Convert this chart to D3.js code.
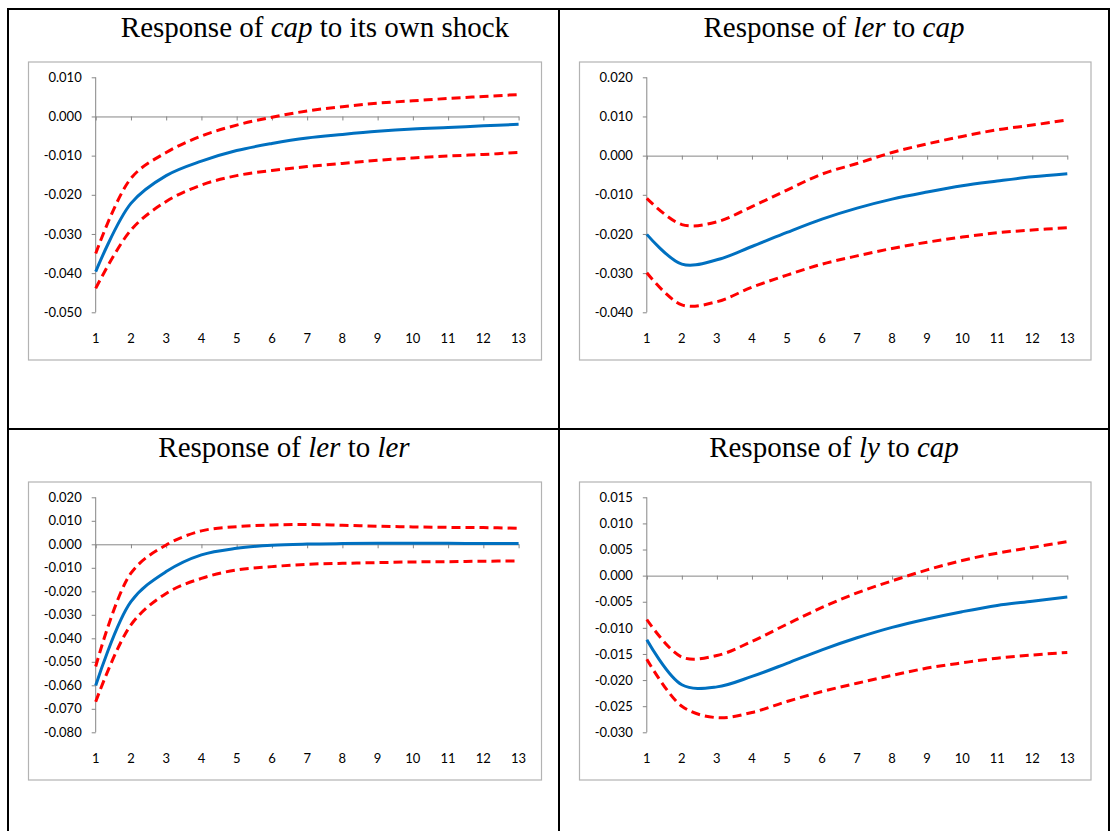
<!DOCTYPE html>
<html>
<head>
<meta charset="utf-8">
<title>Impulse responses</title>
<script src="https://d3js.org/d3.v7.min.js"></script>
<style>
  body { margin: 0; background: #fff; }
  .tick-label { font-family: Lato, "Open Sans", sans-serif; font-size: 13px; fill: #000; }
  .panel-title { font-family: "Liberation Serif", "Times New Roman", serif; font-size: 29px; fill: #000; }
</style>
</head>
<body>
<svg width="1110" height="831"></svg>
<script>
const periods = [1, 2, 3, 4, 5, 6, 7, 8, 9, 10, 11, 12, 13];

// Response of cap to its own shock
const capCapMid   = [-0.0396, -0.0222, -0.0151, -0.0114, -0.0087, -0.0069, -0.0055, -0.0046, -0.0038, -0.0032, -0.0028, -0.0024, -0.0020];
const capCapUpper = [-0.0350, -0.0158, -0.0092, -0.0050, -0.0022, -0.0002, 0.0014, 0.0025, 0.0034, 0.0040, 0.0046, 0.0051, 0.0056];
const capCapLower = [-0.0439, -0.0290, -0.0217, -0.0175, -0.0151, -0.0138, -0.0128, -0.0120, -0.0112, -0.0106, -0.0101, -0.0097, -0.0092];
const capCapTicks = [0.010, 0.000, -0.010, -0.020, -0.030, -0.040, -0.050];

// Response of ler to cap
const lerCapMid   = [-0.0201, -0.0277, -0.0266, -0.0232, -0.0196, -0.0162, -0.0134, -0.0111, -0.0093, -0.0077, -0.0065, -0.0054, -0.0046];
const lerCapUpper = [-0.0109, -0.0176, -0.0169, -0.0130, -0.0088, -0.0047, -0.0020, 0.0008, 0.0030, 0.0049, 0.0066, 0.0078, 0.0091];
const lerCapLower = [-0.0299, -0.0381, -0.0373, -0.0336, -0.0305, -0.0277, -0.0256, -0.0237, -0.0221, -0.0208, -0.0197, -0.0190, -0.0184];
const lerCapTicks = [0.020, 0.010, 0.000, -0.010, -0.020, -0.030, -0.040];

// Response of ler to ler
const lerLerMid   = [-0.0601, -0.0244, -0.0116, -0.0045, -0.0017, -0.0004, 0.0001, 0.0003, 0.0004, 0.0004, 0.0004, 0.0003, 0.0003];
const lerLerUpper = [-0.0520, -0.0123, -0.0003, 0.0057, 0.0075, 0.0082, 0.0084, 0.0081, 0.0077, 0.0074, 0.0072, 0.0071, 0.0068];
const lerLerLower = [-0.0670, -0.0343, -0.0209, -0.0145, -0.0109, -0.0095, -0.0085, -0.0081, -0.0078, -0.0075, -0.0074, -0.0072, -0.0071];
const lerLerTicks = [0.020, 0.010, 0.000, -0.010, -0.020, -0.030, -0.040, -0.050, -0.060, -0.070, -0.080];

// Response of ly to cap
const lyCapMid   = [-0.0123, -0.0209, -0.0213, -0.0193, -0.0168, -0.0142, -0.0119, -0.0099, -0.0083, -0.0069, -0.0057, -0.0049, -0.0041];
const lyCapUpper = [-0.0084, -0.0156, -0.0153, -0.0126, -0.0093, -0.0061, -0.0033, -0.0010, 0.0011, 0.0029, 0.0043, 0.0054, 0.0065];
const lyCapLower = [-0.0160, -0.0250, -0.0272, -0.0262, -0.0241, -0.0222, -0.0206, -0.0191, -0.0177, -0.0167, -0.0158, -0.0152, -0.0147];
const lyCapTicks = [0.015, 0.010, 0.005, 0.000, -0.005, -0.010, -0.015, -0.020, -0.025, -0.030];

// title pieces: [text, italic?]
const capCapTitle = [["Response of ", false], ["cap", true], [" to its own shock", false]];
const lerCapTitle = [["Response of ", false], ["ler", true], [" to ", false], ["cap", true]];
const lerLerTitle = [["Response of ", false], ["ler", true], [" to ", false], ["ler", true]];
const lyCapTitle  = [["Response of ", false], ["ly", true], [" to ", false], ["cap", true]];

const svg = d3.select("svg");

// table grid
const grid = svg.append("g").attr("stroke", "#000").attr("stroke-width", 2);
grid.append("line").attr("x1", 7).attr("x2", 1110).attr("y1", 9).attr("y2", 9);
grid.append("line").attr("x1", 8).attr("x2", 8).attr("y1", 8).attr("y2", 831);
grid.append("line").attr("x1", 559).attr("x2", 559).attr("y1", 8).attr("y2", 831);
grid.append("line").attr("x1", 1109).attr("x2", 1109).attr("y1", 8).attr("y2", 831);
grid.append("line").attr("x1", 8).attr("x2", 1110).attr("y1", 429).attr("y2", 429);

const panels = [
  { title: capCapTitle, titleX: 315, titleY: 37, box: [28.5, 62, 513, 298], x0: 95.7, x1: 518.6, yTop: 77.3, yBot: 312.3,
    ticks: capCapTicks, mid: capCapMid, upper: capCapUpper, lower: capCapLower },
  { title: lerCapTitle, titleX: 834, titleY: 37, box: [579.5, 62, 511.5, 298], x0: 646.8, x1: 1067.3, yTop: 77.3, yBot: 312.3,
    ticks: lerCapTicks, mid: lerCapMid, upper: lerCapUpper, lower: lerCapLower },
  { title: lerLerTitle, titleX: 284, titleY: 457, box: [28.5, 482, 513, 298], x0: 95.7, x1: 518.6, yTop: 497.3, yBot: 732.3,
    ticks: lerLerTicks, mid: lerLerMid, upper: lerLerUpper, lower: lerLerLower },
  { title: lyCapTitle, titleX: 834, titleY: 457, box: [579.5, 482, 511.5, 298], x0: 646.8, x1: 1067.3, yTop: 497.3, yBot: 732.3,
    ticks: lyCapTicks, mid: lyCapMid, upper: lyCapUpper, lower: lyCapLower }
];

const axisColor = "#868686";

panels.forEach(p => {
  const g = svg.append("g");

  // title
  const t = g.append("text").attr("class", "panel-title")
    .attr("x", p.titleX).attr("y", p.titleY).attr("text-anchor", "middle");
  p.title.forEach(([s, it]) => {
    t.append("tspan").text(s).style("font-style", it ? "italic" : "normal");
  });

  // chart frame
  g.append("rect")
    .attr("x", p.box[0]).attr("y", p.box[1])
    .attr("width", p.box[2]).attr("height", p.box[3])
    .attr("fill", "#fff").attr("stroke", "#b3b3b3").attr("stroke-width", 1.2);

  const x = d3.scaleLinear().domain([1, 13]).range([p.x0, p.x1]);
  const y = d3.scaleLinear().domain([d3.min(p.ticks), d3.max(p.ticks)]).range([p.yBot, p.yTop]);

  // y axis
  const yAxis = g.append("g").attr("transform", `translate(${p.x0},0)`)
    .call(d3.axisLeft(y).tickValues(p.ticks).tickSize(4).tickPadding(10)
      .tickFormat(d => d.toFixed(3)));
  yAxis.select(".domain").attr("stroke", axisColor).attr("d", `M0,${p.yTop}V${p.yBot}`);
  yAxis.selectAll(".tick line").attr("stroke", axisColor);
  yAxis.selectAll(".tick text").attr("class", "tick-label");
  yAxis.attr("font-family", null).attr("font-size", null);

  // x axis line at zero, ticks hang down
  const xAxis = g.append("g").attr("transform", `translate(0,${y(0)})`)
    .call(d3.axisBottom(x).tickValues(periods).tickSize(4).tickSizeOuter(0).tickFormat(""));
  xAxis.select(".domain").attr("stroke", axisColor);
  xAxis.selectAll(".tick line").attr("stroke", axisColor);

  // x labels at the bottom of the plot
  g.selectAll(".xlab").data(periods).join("text")
    .attr("class", "tick-label")
    .attr("x", d => x(d)).attr("y", p.yBot + 26)
    .attr("dy", "0.35em").attr("text-anchor", "middle")
    .text(d => d);

  const line = d3.line().x((d, i) => x(periods[i])).y(d => y(d)).curve(d3.curveCatmullRom.alpha(0.5));

  [p.upper, p.lower].forEach(s => {
    g.append("path").attr("d", line(s)).attr("fill", "none")
      .attr("stroke", "#ff0000").attr("stroke-width", 3).attr("stroke-dasharray", "9,5");
  });
  g.append("path").attr("d", line(p.mid)).attr("fill", "none")
    .attr("stroke", "#0070c0").attr("stroke-width", 3);
});
</script>
</body>
</html>
